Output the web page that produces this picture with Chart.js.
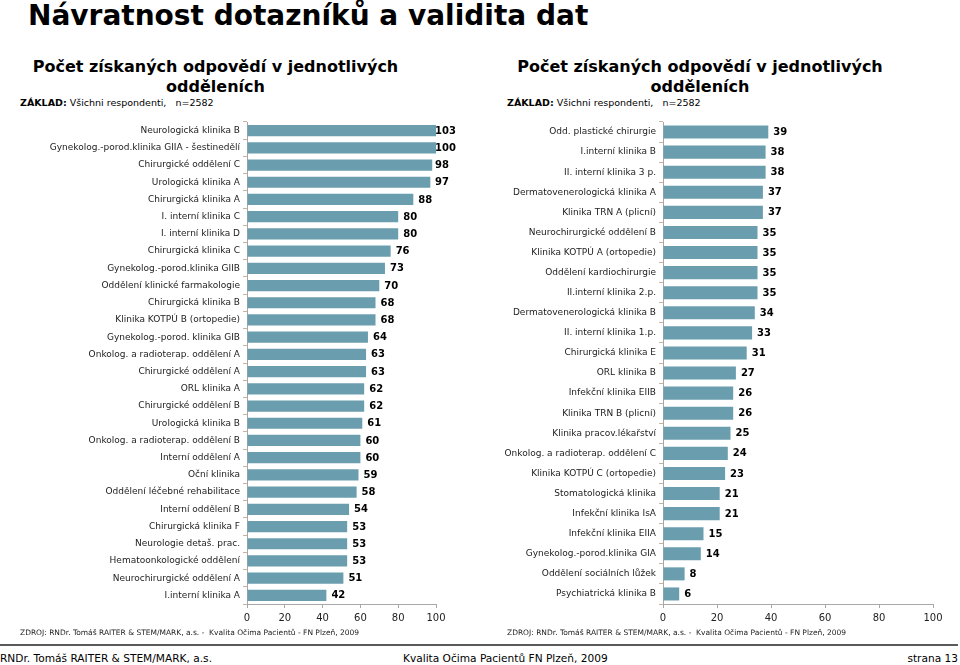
<!DOCTYPE html>
<html>
<head>
<meta charset="utf-8">
<script src="https://cdn.jsdelivr.net/npm/chart.js@4"></script>
<style>
  html, body { margin: 0; padding: 0; background: #fff; }
  body { width: 960px; height: 665px; position: relative; overflow: hidden; font-family: "DejaVu Sans", sans-serif; color: #000; }
  .t { position: absolute; white-space: nowrap; line-height: 1; }
  .title { left: 28px; top: 2px; font-size: 28px; font-weight: bold; }
  .sub { font-size: 16px; font-weight: bold; text-align: center; width: 480px; }
  .base { font-size: 9.5px; }
  .src { font-size: 7.5px; color: #222; }
  .foot { font-size: 10.6px; }
  .rule { position: absolute; left: 0; top: 644px; width: 958px; height: 2px; background: #5a5a5a; }
  canvas { position: absolute; }
</style>
</head>
<body>
<div class="t title">Návratnost dotazníků a validita dat</div>

<div class="t sub" style="left:-24.5px; top:59px;">Počet získaných odpovědí v jednotlivých</div>
<div class="t sub" style="left:-24.5px; top:78.5px;">odděleních</div>
<div class="t sub" style="left:460px; top:59px;">Počet získaných odpovědí v jednotlivých</div>
<div class="t sub" style="left:460px; top:78.5px;">odděleních</div>

<div class="t base" style="left:20px; top:98px;"><b>ZÁKLAD:</b> Všichni respondenti,&nbsp;&nbsp; n=2582</div>
<div class="t base" style="left:507px; top:98px;"><b>ZÁKLAD:</b> Všichni respondenti,&nbsp;&nbsp; n=2582</div>

<div style="position:absolute; left:0; top:110px; width:480px; height:520px;"><canvas id="c1"></canvas></div>
<div style="position:absolute; left:480px; top:110px; width:480px; height:520px;"><canvas id="c2"></canvas></div>

<div class="t src" style="left:20px; top:628.7px;">ZDROJ: RNDr. Tomáš RAITER &amp; STEM/MARK, a.s. -&nbsp; Kvalita Očima Pacientů - FN Plzeň, 2009</div>
<div class="t src" style="left:507px; top:628.7px;">ZDROJ: RNDr. Tomáš RAITER &amp; STEM/MARK, a.s. -&nbsp; Kvalita Očima Pacientů - FN Plzeň, 2009</div>

<div class="rule"></div>
<div class="t foot" style="left:0px; top:652.7px;">RNDr. Tomáš RAITER &amp; STEM/MARK, a.s.</div>
<div class="t foot" style="left:403px; top:652.7px;">Kvalita Očima Pacientů FN Plzeň, 2009</div>
<div class="t foot" style="right:2px; top:652.7px;">strana 13</div>

<script>
const leftCategories = [
  "Neurologická klinika B",
  "Gynekolog.-porod.klinika GIIA - šestinedělí",
  "Chirurgické oddělení C",
  "Urologická klinika A",
  "Chirurgická klinika A",
  "I. interní klinika C",
  "I. interní klinika D",
  "Chirurgická klinika C",
  "Gynekolog.-porod.klinika GIIB",
  "Oddělení klinické farmakologie",
  "Chirurgická klinika B",
  "Klinika KOTPÚ B (ortopedie)",
  "Gynekolog.-porod. klinika GIB",
  "Onkolog. a radioterap. oddělení A",
  "Chirurgické oddělení A",
  "ORL klinika A",
  "Chirurgické oddělení B",
  "Urologická klinika B",
  "Onkolog. a radioterap. oddělení B",
  "Interní oddělení A",
  "Oční klinika",
  "Oddělení léčebné rehabilitace",
  "Interní oddělení B",
  "Chirurgická klinika F",
  "Neurologie detaš. prac.",
  "Hematoonkologické oddělení",
  "Neurochirurgické oddělení A",
  "I.interní klinika A"
];
const leftValues = [103, 100, 98, 97, 88, 80, 80, 76, 73, 70, 68, 68, 64, 63, 63, 62, 62, 61, 60, 60, 59, 58, 54, 53, 53, 53, 51, 42];

const rightCategories = [
  "Odd. plastické chirurgie",
  "I.interní klinika B",
  "II. interní klinika 3 p.",
  "Dermatovenerologická klinika A",
  "Klinika TRN A (plicní)",
  "Neurochirurgické oddělení B",
  "Klinika KOTPÚ A (ortopedie)",
  "Oddělení kardiochirurgie",
  "II.interní klinika 2.p.",
  "Dermatovenerologická klinika B",
  "II. interní klinika 1.p.",
  "Chirurgická klinika E",
  "ORL klinika B",
  "Infekční klinika EIIB",
  "Klinika TRN B (plicní)",
  "Klinika pracov.lékařství",
  "Onkolog. a radioterap. oddělení C",
  "Klinika KOTPÚ C (ortopedie)",
  "Stomatologická klinika",
  "Infekční klinika IsA",
  "Infekční klinika EIIA",
  "Gynekolog.-porod.klinika GIA",
  "Oddělení sociálních lůžek",
  "Psychiatrická klinika B"
];
const rightValues = [39, 38, 38, 37, 37, 35, 35, 35, 35, 34, 33, 31, 27, 26, 26, 25, 24, 23, 21, 21, 15, 14, 8, 6];

const xTicks = [0, 20, 40, 60, 80, 100];

const BAR_COLOR = '#6a9eae';

const valueLabels = {
  id: 'valueLabels',
  afterDatasetsDraw(chart) {
    const ctx = chart.ctx;
    const area = chart.chartArea;
    const meta = chart.getDatasetMeta(0);
    const data = chart.data.datasets[0].data;
    ctx.save();
    ctx.font = 'bold 10px "DejaVu Sans", sans-serif';
    ctx.fillStyle = '#000';
    ctx.textAlign = 'left';
    ctx.textBaseline = 'middle';
    meta.data.forEach((el, i) => {
      const x = Math.min(el.x + 5, area.right - 1);
      ctx.fillText(String(data[i]), x, el.y + 0.5);
    });
    ctx.restore();
  }
};

function makeChart(id, labels, values, yWidth, padRight) {
  return new Chart(document.getElementById(id), {
    type: 'bar',
    data: {
      labels: labels,
      datasets: [{
        data: values,
        backgroundColor: BAR_COLOR,
        borderWidth: 0,
        barPercentage: 0.65,
        categoryPercentage: 1.0
      }]
    },
    plugins: [valueLabels],
    options: {
      indexAxis: 'y',
      responsive: true,
      maintainAspectRatio: false,
      animation: false,
      layout: { padding: { left: 0, right: padRight, top: 12, bottom: 0 } },
      plugins: { legend: { display: false }, tooltip: { enabled: false }, title: { display: false } },
      scales: {
        x: {
          min: 0, max: 100,
          afterBuildTicks(scale) { scale.ticks = xTicks.map(v => ({ value: v })); },
          afterFit(scale) { scale.height = 26; },
          grid: { display: true, drawOnChartArea: false, drawTicks: true, tickLength: 4, color: '#a8a8a8' },
          border: { display: true, color: '#a8a8a8', width: 1 },
          ticks: { padding: 4, color: '#222', font: { family: '"DejaVu Sans", sans-serif', size: 10 }, maxRotation: 0 }
        },
        y: {
          afterFit(scale) { scale.width = yWidth; },
          grid: { display: true, drawOnChartArea: false, drawTicks: true, tickLength: 4, color: '#c4b4a4', offset: true },
          border: { display: true, color: '#a8a8a8', width: 1 },
          ticks: { padding: 3, autoSkip: false, color: '#222', font: { family: '"DejaVu Sans", sans-serif', size: 9 } }
        }
      }
    }
  });
}

makeChart('c1', leftCategories, leftValues, 247, 44);
makeChart('c2', rightCategories, rightValues, 183, 27);
</script>
</body>
</html>
